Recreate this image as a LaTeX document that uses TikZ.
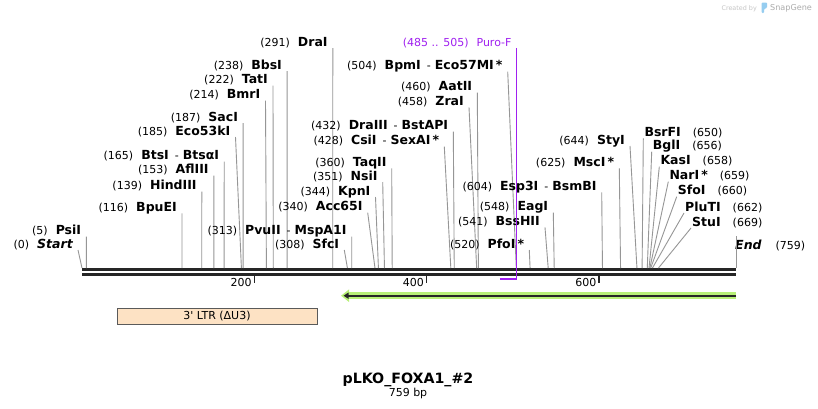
\documentclass[tikz,border=0pt]{standalone}
\usepackage{fontspec}
\setmainfont{DejaVu Sans}
\usetikzlibrary{arrows.meta,positioning}

\definecolor{cutgray}{RGB}{150,150,150}
\definecolor{bbone}{RGB}{38,38,38}
\definecolor{primer}{RGB}{160,32,240}
\definecolor{orfgreen}{RGB}{184,240,120}
\definecolor{ltrfill}{RGB}{253,226,196}
\definecolor{ltrdraw}{RGB}{90,90,90}
\definecolor{logoblue}{RGB}{150,205,240}

\newcommand\nmfont{\fontsize{12.5}{13}\selectfont\bfseries}
\newcommand\dsh{\hspace{6pt}{\mdseries\fontsize{11}{13}\selectfont -}\hspace{4pt}}

\begin{document}
\begin{tikzpicture}[x=1pt, y=-1pt,
    every node/.style={font=\fontsize{11}{13}\selectfont, inner ysep=0pt},
    lab left/.style={anchor=base east, inner xsep=5pt},
    lab right/.style={anchor=base west, inner xsep=1pt},
    cut/.style={draw=cutgray, line width=0.9pt},
    tick/.style={draw=bbone, line width=1.6pt}]
    \useasboundingbox[fill=white] (0,0) rectangle (818,408);

    % backbone, 759 bp from x=82 to x=736
    \coordinate (bbL) at (82,269.7);
    \coordinate (bbR) at (736,269.7);
    \draw[bbone, line width=2.6pt] (bbL) -- (bbR);
    \draw[bbone, line width=2.6pt] ([yshift=-4.5pt]bbL) -- ([yshift=-4.5pt]bbR);

    % ruler
    \foreach \t in {200,400,600}{
        \coordinate (t\t) at ({82+0.8617*\t},276);
        \draw[tick] (t\t) -- ++(0,7);
        \node[anchor=base east, inner xsep=0pt] (n\t) at ([xshift=-2.5pt,yshift=-10pt]t\t) {\t};
    }

    % sites labelled left of the cut line
    \foreach \p/\tx/\ty/\nm in {
        5/86.3/236.5/PsiI,
        116/182/213.3/BpuEI,
        139/201.8/191.5/HindIII,
        153/213.8/175.5/AflIII,
        165/224.2/161.5/{BtsI\dsh BtsαI},
        185/235.5/137/Eco53kI,
        187/243.1/123/SacI,
        214/265.5/100.5/BmrI,
        222/273/85.5/TatI,
        238/287.1/71/BbsI,
        291/332.8/48/DraI,
        308/344.3/250/SfcI,
        313/351.7/236.7/{PvuII\dsh MspA1I},
        340/367.7/212.7/Acc65I,
        344/375.5/197/KpnI,
        351/382.7/182/NsiI,
        360/391.7/168.3/TaqII,
        428/444.3/146.7/{CsiI\dsh SexAI\,*},
        432/453.3/131.7/{DraIII\dsh BstAPI},
        458/469/107.3/ZraI,
        460/477.3/92.7/AatII,
        504/507.7/71.7/{BpmI\dsh Eco57MI\,*},
        520/529.3/250/{PfoI\,*},
        541/545/227.3/BssHII,
        548/553.3/212.7/EagI,
        604/601.7/192.3/{Esp3I\dsh BsmBI},
        625/619.3/168.3/{MscI\,*},
        644/630/146/StyI}{
        \coordinate (s\p) at ({82+0.8617*\p},268);
        \node[lab left] (l\p) at (\tx,\ty-2) {(\p)\hspace{8pt}{\nmfont\nm}};
        \draw[cut] (s\p) -- ([yshift=-2pt]l\p.base east);
    }

    % sites labelled right of the cut line
    \foreach \p/\tx/\ty/\nm in {
        650/643.3/138.3/BsrFI,
        656/651.7/151.7/BglI,
        658/659.3/166.7/KasI,
        659/668.3/181.7/{NarI\,*},
        660/676.7/196.7/SfoI,
        662/684/213/PluTI,
        669/691/228/StuI}{
        \coordinate (s\p) at ({82+0.8617*\p},268);
        \node[lab right] (l\p) at (\tx,\ty-2) {{\nmfont\nm}\hspace{12pt}(\p)};
        \draw[cut] (s\p) -- ([yshift=-2pt]l\p.base west);
    }

    % Start and End
    \coordinate (s0) at (82,268);
    \node[lab left] (l0) at (78,248) {(0)\hspace{8pt}{\nmfont\itshape Start}};
    \draw[cut] (s0) -- ([yshift=-2pt]l0.base east);
    \coordinate (s759) at (736,268);
    \coordinate (endtop) at (736,236);
    \node[lab right] (l759) at (734,249) {{\nmfont\itshape End}\hspace{14pt}(759)};
    \draw[cut] (s759) -- (endtop);

    % primer Puro-F
    \coordinate (p485) at ({82+0.8617*485},279);
    \coordinate (p505) at (516.7,279);
    \node[lab left, text=primer] (puro) at (516.7,46) {(485 .. 505)\hspace{8pt}Puro-F};
    \draw[primer, line width=2.5pt] (p485) -- (p505);
    \draw[primer, line width=1.2pt] ([yshift=-2pt]puro.base east) -- ([yshift=-1pt]p505);

    % features
    \coordinate (orfR) at (736,295.7);
    \coordinate (orfL) at (341,295.7);
    \draw[orfgreen, line width=6.5pt, -{Triangle[length=8pt,width=12pt]}] (orfR) -- (orfL);
    \draw[bbone, line width=2pt, -{Triangle[length=5pt,width=6pt]}] (orfR) -- ([xshift=2.5pt]orfL);
    \node[draw=ltrdraw, fill=ltrfill, minimum width=200pt, minimum height=16pt, inner sep=0pt] (ltr) at (217,316) {3\textquotesingle{} LTR (ΔU3)};

    % name and size
    \node[anchor=base, font=\fontsize{14.2}{16}\selectfont\bfseries] (title) at (408,383) {pLKO\_FOXA1\_\#2};
    \node[anchor=base] (size) at (408,396) {759 bp};

    % credit
    \node[anchor=base east, inner xsep=0pt, text=gray!45, font=\fontsize{6.4}{8}\selectfont] (credit) at (757,10) {Created by};
    \fill[logoblue, rounded corners=1pt] (761.5,13) -- (761.5,2.5) -- (767,2.5) -- (767,8) -- (764,9) -- (764,13) -- cycle;
    \node[anchor=base west, inner xsep=0pt, text=gray!65, font=\fontsize{8.1}{9}\selectfont] (sg) at (770,10.5) {SnapGene};
\end{tikzpicture}
\end{document}
